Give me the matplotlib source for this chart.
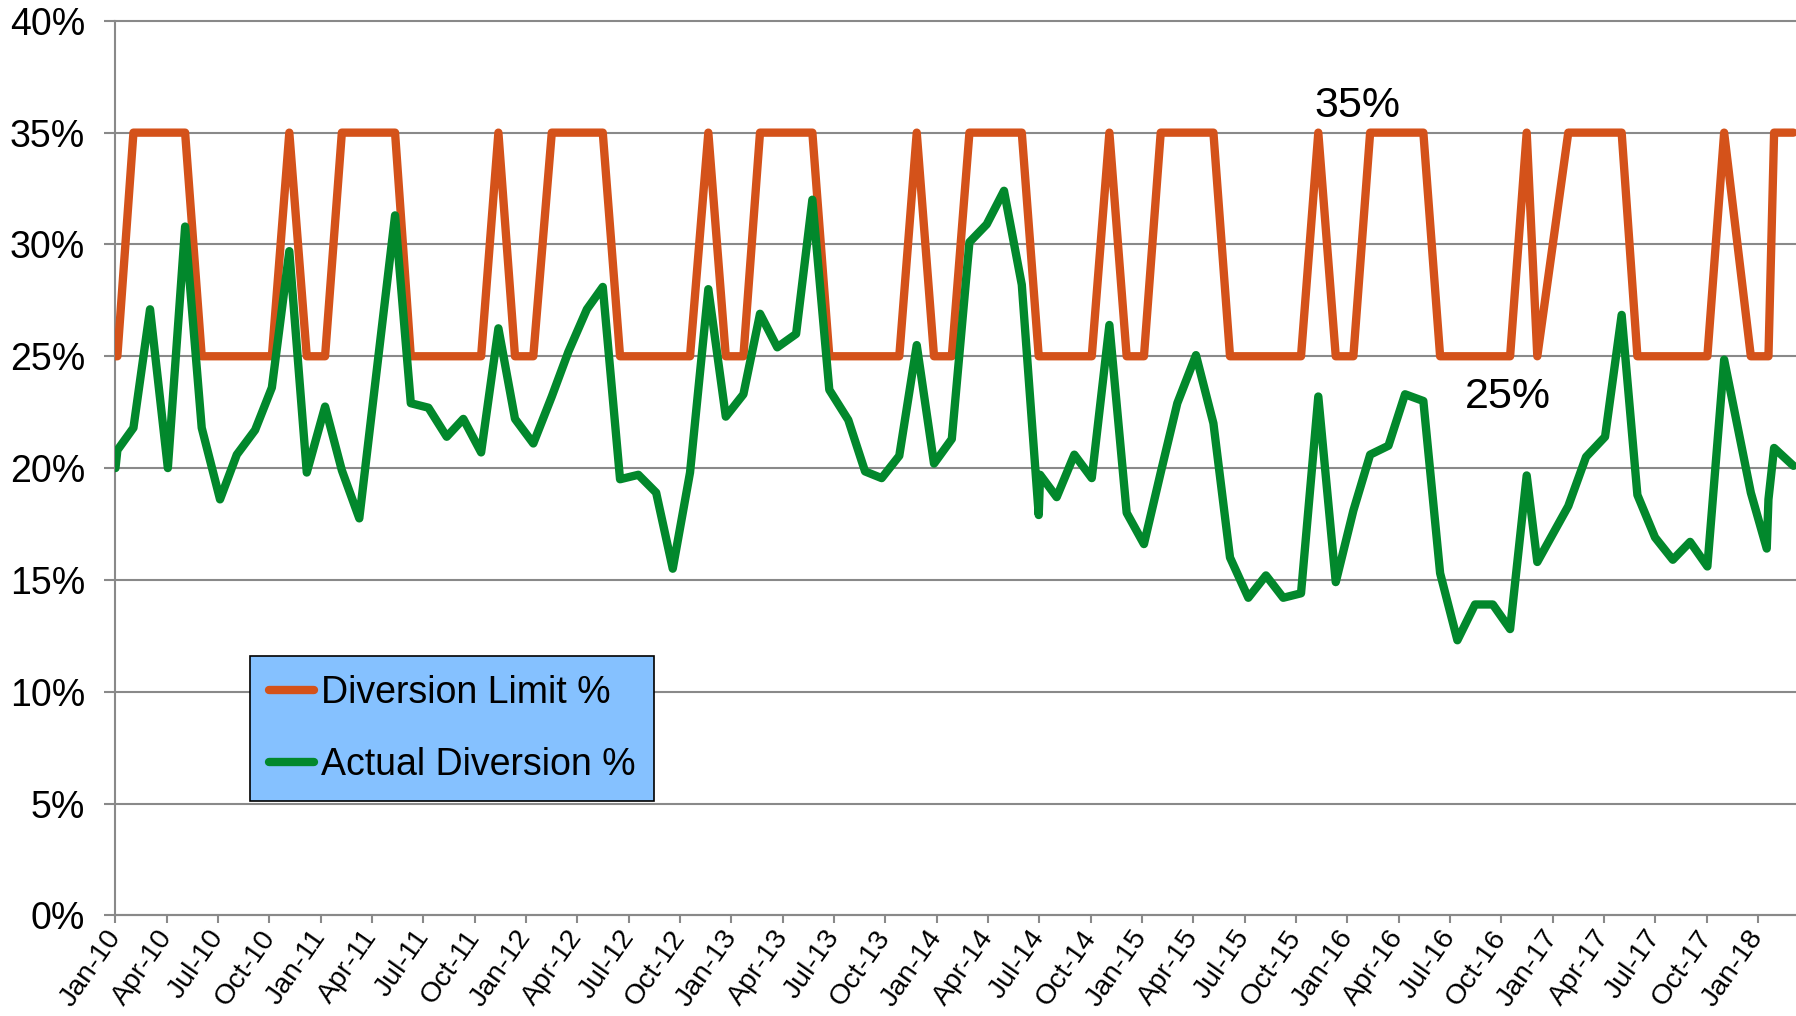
import matplotlib.pyplot as plt
from matplotlib.transforms import ScaledTranslation

plt.rcParams['font.family'] = ['Liberation Sans', 'DejaVu Sans']

# sample dates as months since Jan-2010 (the samples are not exactly monthly)
months = [0.00, 0.11, 1.05, 2.02, 3.06, 4.07, 5.04, 6.11, 7.09, 8.16,
          9.14, 10.16, 11.18, 12.25, 13.23, 14.25, 15.29, 16.34, 17.26, 18.29,
          19.36, 20.33, 21.37, 22.38, 23.35, 24.42, 25.50, 26.47, 27.55, 28.48,
          29.49, 30.56, 31.60, 32.57, 33.58, 34.65, 35.67, 36.70, 37.67, 38.68,
          39.78, 40.73, 41.72, 42.83, 43.81, 44.78, 45.81, 46.83, 47.84, 48.88,
          49.91, 50.92, 51.93, 52.97, 53.96, 54.04, 55.01, 56.04, 57.06, 58.09,
          59.10, 60.11, 61.09, 62.06, 63.15, 64.17, 65.14, 66.21, 67.24, 68.25,
          69.29, 70.30, 71.32, 72.35, 73.33, 74.40, 75.37, 76.44, 77.42, 78.43,
          79.46, 80.50, 81.51, 82.48, 83.10, 84.91, 85.95, 87.06, 88.03, 88.95,
          89.98, 91.02, 92.03, 93.04, 94.02, 95.58, 96.51, 96.61, 96.94, 98.07]

limit_pct = [25, 25, 35, 35, 35, 35, 25, 25, 25, 25,
             25, 35, 25, 25, 35, 35, 35, 35, 25, 25,
             25, 25, 25, 35, 25, 25, 35, 35, 35, 35,
             25, 25, 25, 25, 25, 35, 25, 25, 35, 35,
             35, 35, 25, 25, 25, 25, 25, 35, 25, 25,
             35, 35, 35, 35, 25, 25, 25, 25, 25, 35,
             25, 25, 35, 35, 35, 35, 25, 25, 25, 25,
             25, 35, 25, 25, 35, 35, 35, 35, 25, 25,
             25, 25, 25, 35, 25, 35, 35, 35, 35, 25,
             25, 25, 25, 25, 35, 25, 25, 25, 35, 35]

actual_pct = [20.0, 20.8, 21.8, 27.1, 20.0, 30.8, 21.8, 18.6, 20.6, 21.7,
              23.6, 29.7, 19.8, 22.75, 19.9, 17.75, 24.5, 31.3, 22.9, 22.7,
              21.4, 22.2, 20.7, 26.25, 22.2, 21.1, 23.2, 25.2, 27.1, 28.1,
              19.5, 19.7, 18.9, 15.5, 19.8, 28.0, 22.3, 23.3, 26.9, 25.4,
              26.0, 32.0, 23.5, 22.15, 19.85, 19.55, 20.55, 25.5, 20.2, 21.3,
              30.1, 30.9, 32.4, 28.2, 17.9, 19.7, 18.7, 20.6, 19.55, 26.4,
              18.0, 16.6, 19.8, 22.9, 25.05, 22.0, 16.0, 14.2, 15.2, 14.2,
              14.4, 23.2, 14.9, 18.1, 20.6, 21.0, 23.3, 23.0, 15.3, 12.3,
              13.9, 13.9, 12.8, 19.67, 15.8, 18.3, 20.5, 21.4, 26.85, 18.8,
              16.9, 15.9, 16.7, 15.6, 24.85, 18.9, 16.4, 18.6, 20.9, 20.1]

tick_months = list(range(0, 97, 3))
tick_labels = [m + '-' + str(yy) for yy in range(10, 19)
               for m in ('Jan', 'Apr', 'Jul', 'Oct')][:len(tick_months)]
y_ticks = list(range(0, 41, 5))

orange = '#D4521A'
green = '#02882C'
grey = '#898989'

fig = plt.figure(figsize=(17.96, 10.16), dpi=100)
ax = fig.add_axes([0.0643, 0.0991, 0.9357, 0.8804])

ax.plot(months, limit_pct, color=orange, lw=6, solid_joinstyle='round',
        solid_capstyle='round', label='Diversion Limit %', zorder=3)
ax.plot(months, actual_pct, color=green, lw=6, solid_joinstyle='round',
        solid_capstyle='round', label='Actual Diversion %', zorder=4)

ax.text(72.6, 36.2, '35%', fontsize=31, ha='center', va='center')
ax.text(81.4, 23.2, '25%', fontsize=31, ha='center', va='center')

ax.set_xlim(0, 98.22)
ax.set_ylim(0, 40)
ax.set_yticks(y_ticks)
ax.set_yticklabels([str(v) + '%' for v in y_ticks])
ax.set_xticks(tick_months)
ax.set_xticklabels(tick_labels, rotation=55, ha='right', va='center',
                   rotation_mode='anchor')
shift = ScaledTranslation(0.08, 0, fig.dpi_scale_trans)
for lbl in ax.get_xticklabels():
    lbl.set_transform(lbl.get_transform() + shift)

ax.yaxis.grid(True, color=grey, lw=1.5)
for gl in ax.get_ygridlines():
    gl.set_clip_on(False)
ax.set_axisbelow(True)

for side in ('top', 'right'):
    ax.spines[side].set_visible(False)
for side in ('left', 'bottom'):
    ax.spines[side].set_color(grey)
    ax.spines[side].set_linewidth(1.5)

ax.tick_params(axis='y', length=8, width=1.5, color=grey, labelsize=27, pad=14)
ax.tick_params(axis='x', length=5.5, width=1.5, color=grey, labelsize=20.5, pad=7)

leg = ax.legend(loc='upper left', bbox_to_anchor=(0.0799, 0.2896),
                borderaxespad=0, fontsize=27, frameon=True, fancybox=False,
                facecolor='#85C1FF', edgecolor='black', framealpha=1,
                handlelength=1.2, handletextpad=0.2, labelspacing=0.95,
                borderpad=0.5)
leg.get_frame().set_linewidth(1.2)
leg.set_zorder(10)

fig.savefig('out.png', dpi=100)
